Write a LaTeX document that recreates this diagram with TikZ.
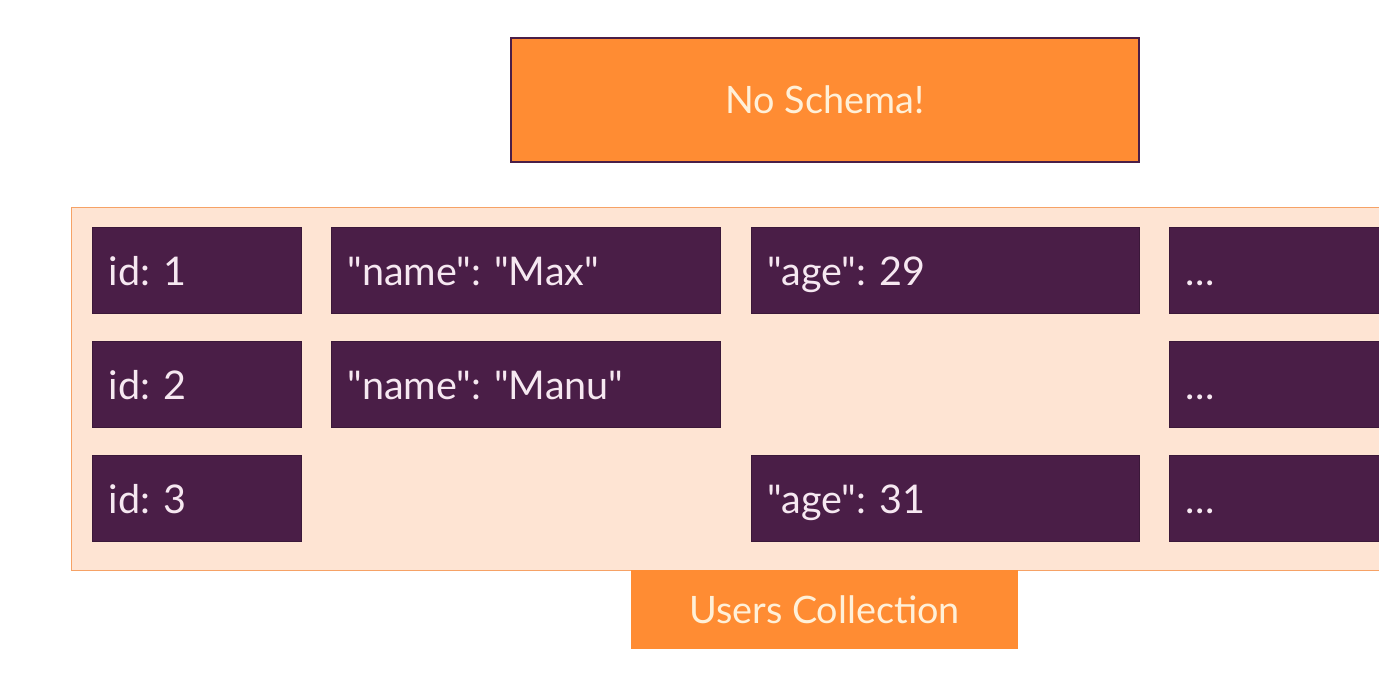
\documentclass[tikz,border=0pt]{standalone}
\usepackage{fontspec}
\newfontfamily\docfont{Lato}
\usepackage{xcolor}
\usetikzlibrary{positioning}

\definecolor{schemaorange}{HTML}{FF8C33}
\definecolor{collpeach}{HTML}{FEE4D3}
\definecolor{collline}{HTML}{F6A266}
\definecolor{cellpurple}{HTML}{4A1E47}
\definecolor{celltext}{HTML}{F6E8F1}
\definecolor{labeltext}{HTML}{FFF0D8}

\newcommand{\moredots}{{.}\kern0.5pt{.}\kern0.5pt{.}}

\begin{document}
\frenchspacing
\begin{tikzpicture}[
    x=0.02cm, y=-0.02cm,
    cell/.style={fill=cellpurple, draw=cellpurple!80!black, line width=0.6pt, text=celltext,
        minimum height=1.72cm, inner xsep=0.32cm, anchor=north west,
        text height=0.68cm, text depth=0.08cm,
        font=\docfont\fontsize{22.5}{26}\selectfont},
    label/.style={fill=schemaorange, text=labeltext, font=\docfont\fontsize{21.5}{26}\selectfont},
]
\useasboundingbox (0,0) rectangle (1379,679);
\clip (0,0) rectangle (1379,679);

% heading
\node[label, draw=cellpurple, line width=0.8pt, minimum width=12.56cm, minimum height=2.48cm]
    (schema) at (825,100) {No Schema!};

% the collection
\node[fill=collpeach, draw=collline, line width=0.8pt, anchor=north west,
    minimum width=26.4cm, minimum height=7.26cm, inner sep=0pt] (coll) at (71,207) {};

% documents
\node[cell, text width=3.54cm] (id1) at (92,227) {id: 1};
\node[cell, text width=7.14cm] (name1) at (331,227) {"name": "Max"};
\node[cell, text width=7.12cm] (age1) at (751,227) {"age": 29};
\node[cell, text width=6cm] (more1) at (1169,227) {\moredots};

\node[cell, text width=3.54cm] (id2) at (92,341) {id: 2};
\node[cell, text width=7.14cm] (name2) at (331,341) {"name": "Manu"};
\node[cell, text width=6cm] (more2) at (1169,341) {\moredots};

\node[cell, text width=3.54cm] (id3) at (92,455) {id: 3};
\node[cell, text width=7.12cm] (age3) at (751,455) {"age": 31};
\node[cell, text width=6cm] (more3) at (1169,455) {\moredots};

% caption
\node[label, minimum width=7.74cm, minimum height=1.58cm, anchor=north]
    (users) at (824.5,570) {Users Collection};
\end{tikzpicture}
\end{document}
